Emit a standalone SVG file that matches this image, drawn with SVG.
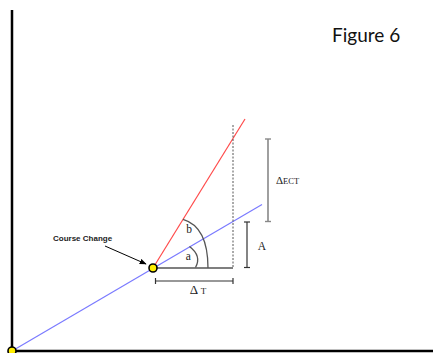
<svg xmlns="http://www.w3.org/2000/svg" width="433" height="353" viewBox="0 0 433 353">
<style>
.serif{font-family:"Liberation Serif","DejaVu Serif",serif;fill:#222}
.dim{stroke:#333;stroke-width:1.2;fill:none}
.arc{stroke:#555;stroke-width:1.3;fill:none}
.pt{fill:#ffee00;stroke:#000;stroke-width:1.6}
</style>
<defs>
<marker id="ah" viewBox="0 0 10 10" refX="9" refY="5" markerWidth="7" markerHeight="7" orient="auto" markerUnits="userSpaceOnUse">
<path d="M0,1 L10,5 L0,9 Z" fill="#000"/>
</marker>
</defs>
<rect width="433" height="353" fill="#fff"/>
<g id="axes">
<line x1="12" y1="10" x2="12" y2="353" stroke="#000" stroke-width="2.5"/>
<line x1="11" y1="351" x2="433" y2="351" stroke="#000" stroke-width="2.5"/>
</g>
<g id="connectors">
<line x1="12" y1="351" x2="262" y2="204.5" stroke="#7a7aff" stroke-width="1.2"/>
<line x1="153" y1="268" x2="245" y2="119" stroke="#ff4a4a" stroke-width="1.2"/>
<line x1="233" y1="125" x2="233" y2="268" stroke="#555" stroke-width="1" stroke-dasharray="2,1.5"/>
<line x1="153" y1="268" x2="233" y2="268" stroke="#000" stroke-width="1.2"/>
<path class="arc" d="M189.5,246.5 Q202,256 195.5,267.5"/>
<path class="arc" d="M183,219.3 C199,224 208,240 208,268"/>
<line x1="105" y1="246" x2="146" y2="264" stroke="#000" stroke-width="1" marker-end="url(#ah)"/>
</g>
<g id="dim-dt">
<line class="dim" x1="155.5" y1="281" x2="233" y2="281"/>
<line class="dim" x1="155.5" y1="278" x2="155.5" y2="284"/>
<line class="dim" x1="233" y1="278" x2="233" y2="284"/>
<text class="serif" x="198" y="293.5" text-anchor="middle" font-size="13">Δ <tspan font-size="9">T</tspan></text>
</g>
<g id="dim-a">
<line class="dim" x1="247" y1="222" x2="247" y2="267.5"/>
<line class="dim" x1="244" y1="222" x2="250" y2="222"/>
<line class="dim" x1="244" y1="267.5" x2="250" y2="267.5"/>
<text class="serif" x="262" y="249.5" text-anchor="middle" font-size="11.5">A</text>
</g>
<g id="dim-ect">
<line x1="268" y1="139" x2="268" y2="221.5" stroke="#888" stroke-width="1.6"/>
<line x1="265" y1="139" x2="271" y2="139" stroke="#888" stroke-width="1.4"/>
<line x1="265" y1="221.5" x2="271" y2="221.5" stroke="#888" stroke-width="1.4"/>
<text class="serif" x="276" y="184" font-size="11">Δ<tspan font-size="8.5">ECT</tspan></text>
</g>
<g id="labels">
<text class="serif" x="188.4" y="260" text-anchor="middle" font-size="11.5">a</text>
<text class="serif" x="189" y="233.3" text-anchor="middle" font-size="11.5">b</text>
<text x="53" y="241" font-family="Liberation Sans,Arial,sans-serif" font-weight="bold" font-size="8" fill="#222">Course Change</text>
<text x="332" y="42" font-family="Lato,sans-serif" font-size="19" fill="#111">Figure 6</text>
</g>
<g id="node-origin"><circle class="pt" cx="12" cy="351" r="4"/></g>
<g id="node-course-change"><circle class="pt" cx="153" cy="268" r="4"/></g>
</svg>
